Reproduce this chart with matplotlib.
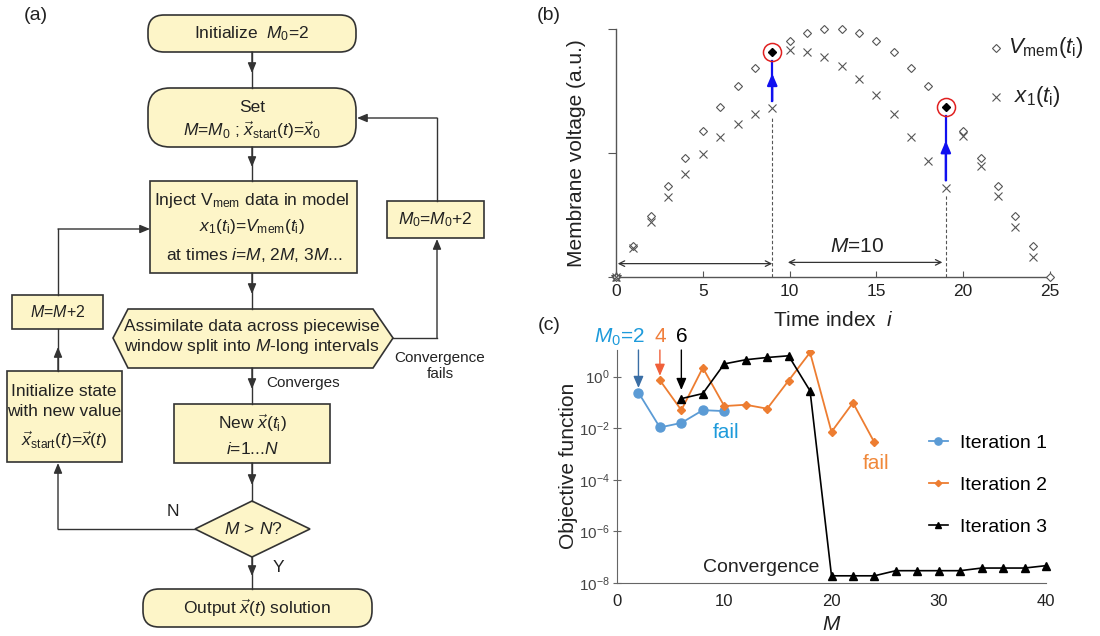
import matplotlib
matplotlib.use("Agg")
import matplotlib.pyplot as plt
import numpy as np
from matplotlib.patches import FancyBboxPatch, Rectangle, Polygon

plt.rcParams["font.family"] = ["Liberation Sans", "DejaVu Sans"]
plt.rcParams["mathtext.fontset"] = "custom"
plt.rcParams["mathtext.rm"] = "Liberation Sans"
plt.rcParams["mathtext.it"] = "Liberation Sans:italic"
plt.rcParams["mathtext.bf"] = "Liberation Sans:bold"

# ---- panel (b) data: membrane voltage vs time index ----
t_index = np.arange(26)
v_mem = [0.0, 0.124, 0.247, 0.368, 0.481, 0.589, 0.685, 0.772, 0.845, 0.907,
         0.953, 0.984, 1.0, 1.0, 0.984, 0.953, 0.907, 0.845, 0.772, 0.685,
         0.589, 0.481, 0.368, 0.247, 0.124, 0.0]
x1_index = np.arange(25)
x1_model = [0.0, 0.116, 0.223, 0.323, 0.417, 0.496, 0.565, 0.618, 0.659, 0.681,
            0.917, 0.909, 0.887, 0.852, 0.800, 0.735, 0.659, 0.567, 0.468, 0.360,
            0.570, 0.449, 0.325, 0.202, 0.079]
inject_times = [9, 19]

# ---- panel (c) data: objective function vs M ----
m_iter1 = [2, 4, 6, 8, 10]
obj_iter1 = [0.24, 0.0107, 0.016, 0.05, 0.046]
m_iter2 = [4, 6, 8, 10, 12, 14, 16, 18, 20, 22, 24]
obj_iter2 = [0.72, 0.05, 2.2, 0.072, 0.081, 0.057, 0.7, 8.6, 0.0072, 0.097, 0.0028]
m_iter3 = [6, 8, 10, 12, 14, 16, 18, 20, 22, 24, 26, 28, 30, 32, 34, 36, 38, 40]
obj_iter3 = [0.14, 0.22, 3.1, 4.5, 5.5, 6.4, 0.28, 1.9e-8, 1.9e-8, 1.9e-8,
             3.0e-8, 3.0e-8, 3.0e-8, 3.0e-8, 3.8e-8, 3.8e-8, 3.8e-8, 4.7e-8]

BOX_FILL = "#fdf5c8"
EDGE = "#333333"
TXT = "#222222"

fig = plt.figure(figsize=(11, 6.36), dpi=100)

# ---------------- panel (a): flowchart in pixel coordinates ----------------
fa = fig.add_axes([0, 0, 1, 1])
fa.set_xlim(0, 1100)
fa.set_ylim(636, 0)
fa.axis("off")


def rbox(x0, y0, x1, y1, r=16):
    fa.add_patch(FancyBboxPatch((x0, y0), x1 - x0, y1 - y0,
                                boxstyle=f"round,pad=0,rounding_size={r}",
                                fc=BOX_FILL, ec=EDGE, lw=1.2))


def box(x0, y0, x1, y1):
    fa.add_patch(Rectangle((x0, y0), x1 - x0, y1 - y0, fc=BOX_FILL, ec=EDGE, lw=1.2))


def poly(pts):
    fa.add_patch(Polygon(pts, closed=True, fc=BOX_FILL, ec=EDGE, lw=1.2))


def txt(x, y, s, size=12.5, **kw):
    fa.text(x, y, s, ha=kw.pop("ha", "center"), va="center", fontsize=size, color=TXT, **kw)


AP = dict(arrowstyle="-|>,head_length=0.6,head_width=0.25", color=EDGE, lw=1.0,
          shrinkA=0, shrinkB=0, mutation_scale=10)


def link_mid(p0, p1):
    fa.plot([p0[0], p1[0]], [p0[1], p1[1]], color=EDGE, lw=1.0)
    mid = ((p0[0] + p1[0]) / 2 + 0.0, (p0[1] + p1[1]) / 2 + (3 if p1[1] > p0[1] else -3))
    fa.annotate("", xy=mid, xytext=p0, arrowprops=AP)


def link_path(pts):
    xs = [p[0] for p in pts]
    ys = [p[1] for p in pts]
    fa.plot(xs[:-1], ys[:-1], color=EDGE, lw=1.0)
    fa.annotate("", xy=pts[-1], xytext=pts[-2], arrowprops=AP)


fa.text(36, 15, "(a)", fontsize=14, ha="center", va="center", color=TXT)
fa.text(549, 15, "(b)", fontsize=14, ha="center", va="center", color=TXT)
fa.text(549, 325, "(c)", fontsize=14, ha="center", va="center", color=TXT)

rbox(148, 15, 356, 52)
txt(252, 34, r"Initialize  $M_0$=2")
rbox(148, 88, 356, 147, r=22)
txt(252, 107, "Set")
txt(252, 130, r"$M$=$M_0$ ; $\vec{x}_{\mathrm{start}}(t)$=$\vec{x}_0$")
box(150, 181, 357, 273)
txt(252, 201, r"Inject V$_{\mathrm{mem}}$ data in model")
txt(252, 226, r"$x_1(t_{\mathrm{i}})$=$V_{\mathrm{mem}}(t_{\mathrm{i}})$")
txt(254, 255, r"at times $i$=$M$, 2$M$, 3$M$...")
poly([(113, 338), (128, 309), (373, 309), (393, 338), (373, 368), (128, 368)])
txt(252, 327, "Assimilate data across piecewise")
txt(252, 346, r"window split into $M$-long intervals")
box(387, 201, 484, 238)
txt(435, 220, r"$M_0$=$M_0$+2")
txt(440, 366, "Convergence\nfails", size=11, linespacing=1.1)
txt(266, 383, "Converges", size=11, ha="left")
box(174, 404, 330, 463)
txt(252, 423, r"New $\vec{x}(t_{\mathrm{i}})$")
txt(252, 449, r"$i$=1...$N$")
poly([(195, 529), (252, 501), (310, 529), (252, 557)])
txt(253, 529, r"$M\,>\,N?$")
txt(173, 512, "N")
txt(278, 567, "Y")
box(7, 371, 122, 462)
txt(64, 392, "Initialize state")
txt(64, 411, "with new value")
txt(64, 440, r"$\vec{x}_{\mathrm{start}}(t)$=$\vec{x}(t)$")
box(12, 295, 103, 329)
txt(58, 312, r"$M$=$M$+2", size=11.5)
rbox(143, 589, 372, 627)
txt(257, 608, r"Output $\vec{x}(t)$ solution")

for p0, p1 in [((252, 52), (252, 88)), ((252, 147), (252, 181)), ((252, 273), (252, 309)),
               ((252, 368), (252, 404)), ((252, 463), (252, 501)), ((252, 557), (252, 589)),
               ((58, 371), (58, 329))]:
    link_mid(p0, p1)
link_path([(195, 529), (58, 529), (58, 463)])
link_path([(58, 295), (58, 229), (150, 229)])
link_path([(393, 338), (437, 338), (437, 239)])
link_path([(437, 201), (437, 118), (357, 118)])

# ---------------- panel (b) ----------------
axb = fig.add_axes([616 / 1100, (636 - 277) / 636, 434 / 1100, 247.7 / 636])
axb.set_xlim(0, 25)
axb.set_ylim(0, 1)
for s in ["top", "right"]:
    axb.spines[s].set_visible(False)
for s in ["left", "bottom"]:
    axb.spines[s].set_color("#555555")
    axb.spines[s].set_linewidth(1.0)
axb.set_xticks([0, 5, 10, 15, 20, 25])
axb.set_yticks([0, 0.5, 1])
axb.set_yticklabels([])
axb.tick_params(axis="x", direction="in", length=4, color="#555555", labelsize=12.5,
                labelcolor=TXT, pad=5)
axb.tick_params(axis="y", direction="out", length=6, color="#555555")

vm_plot = [v for i, v in enumerate(v_mem) if i not in inject_times]
t_plot = [i for i in t_index if i not in inject_times]
axb.plot(t_plot, vm_plot, ls="none", marker="D", ms=4.2, mfc="white", mec="#555555",
         mew=0.8, clip_on=False, zorder=3)
axb.plot(x1_index, x1_model, ls="none", marker="x", ms=6, mec="#555555", mew=0.8,
         clip_on=False, zorder=3)
axb.plot([0], [0], ls="none", marker="*", ms=7, mfc="none", mec="#555555", mew=0.8,
         clip_on=False, zorder=4)
for ti in inject_times:
    vv = v_mem[ti]
    xx = x1_model[ti]
    axb.plot([ti], [vv], ls="none", marker="D", ms=4.5, mfc="black", mec="black", zorder=4)
    axb.plot([ti], [vv], ls="none", marker="o", ms=13, mfc="none", mec="#e02020",
             mew=1.1, zorder=4)
    y0 = xx + 0.03
    y1 = vv - 0.035
    axb.plot([ti, ti], [y0, y1], color="#1010f0", lw=1.6, zorder=3)
    axb.annotate("", xy=(ti, (y0 + y1) / 2 + 0.03), xytext=(ti, y0),
                 arrowprops=dict(arrowstyle="-|>,head_length=0.7,head_width=0.3",
                                 color="#1010f0", lw=1.6, shrinkA=0, shrinkB=0,
                                 mutation_scale=10))
    axb.plot([ti, ti], [0, xx - 0.03], color="#555555", lw=0.8, ls=(0, (3, 2)))

axb.annotate("", xy=(0.1, 0.054), xytext=(9.0, 0.054),
             arrowprops=dict(arrowstyle="<->", color="#333333", lw=0.9, shrinkA=0, shrinkB=0))
axb.annotate("", xy=(9.9, 0.059), xytext=(18.8, 0.059),
             arrowprops=dict(arrowstyle="<->", color="#333333", lw=0.9, shrinkA=0, shrinkB=0))
axb.text(13.9, 0.124, r"$M$=10", fontsize=15, ha="center", va="center", color=TXT)

axb.plot([21.9], [0.925], ls="none", marker="D", ms=4.2, mfc="white", mec="#555555",
         mew=0.8, clip_on=False)
axb.plot([21.9], [0.727], ls="none", marker="x", ms=6, mec="#555555", mew=0.8,
         clip_on=False)
axb.text(22.6, 0.925, r"$V_{\mathrm{mem}}(t_{\mathrm{i}})$", fontsize=16, va="center",
         ha="left", color=TXT)
axb.text(22.9, 0.727, r"$x_1(t_{\mathrm{i}})$", fontsize=16, va="center", ha="left",
         color=TXT)

axb.set_xlabel(r"Time index  $i$", fontsize=15, color=TXT, labelpad=9)
axb.set_ylabel("Membrane voltage (a.u.)", fontsize=15, color=TXT, labelpad=12)

# ---------------- panel (c) ----------------
axc = fig.add_axes([617 / 1100, (636 - 583) / 636, 429 / 1100, 233.5 / 636])
axc.set_yscale("log")
axc.set_xlim(0, 40)
axc.set_ylim(1e-8, 10 ** 1.05)
for s in ["top", "right"]:
    axc.spines[s].set_visible(False)
for s in ["left", "bottom"]:
    axc.spines[s].set_color("#666666")
axc.set_xticks([0, 10, 20, 30, 40])
axc.set_yticks([1e-8, 1e-6, 1e-4, 1e-2, 1])
axc.minorticks_off()
axc.yaxis.set_minor_locator(matplotlib.ticker.NullLocator())
axc.tick_params(axis="x", length=0, labelsize=12, labelcolor=TXT, pad=8)
axc.tick_params(axis="y", direction="inout", length=6, color="#666666", labelsize=11,
                labelcolor="#444444", pad=2)

c1 = "#5b9bd5"
c2 = "#ed7d31"
axc.plot(m_iter1, obj_iter1, color=c1, lw=1.3, marker="o", ms=6.5, label="Iteration 1")
axc.plot(m_iter2, obj_iter2, color=c2, lw=1.3, marker="D", ms=4, label="Iteration 2")
axc.plot(m_iter3, obj_iter3, color="black", lw=1.2, marker="^", ms=6, label="Iteration 3",
         clip_on=False)

y_text = 10 ** 1.54
y_top = 10 ** 1.03
axc.text(2.6, y_text, r"$M_0$=2", color="#1e9bdb", fontsize=15, ha="right", va="center")
axc.text(4.0, y_text, "4", color="#f07f3c", fontsize=15, ha="center", va="center")
axc.text(6.0, y_text, "6", color="black", fontsize=15, ha="center", va="center")
for xm, yb, col in [(2, 10 ** -0.44, "#3a6ea5"), (4, 10 ** 0.03, "#f0603a"),
                    (6, 10 ** -0.52, "black")]:
    axc.annotate("", xy=(xm, yb), xytext=(xm, y_top), annotation_clip=False,
                 arrowprops=dict(arrowstyle="-|>,head_length=0.7,head_width=0.3",
                                 color=col, lw=1.0, shrinkA=0, shrinkB=0,
                                 mutation_scale=10))

axc.text(10.2, 10 ** -2.18, "fail", color="#1e9bdb", fontsize=15, ha="center", va="center")
axc.text(24.2, 10 ** -3.37, "fail", color="#f0883a", fontsize=15, ha="center", va="center")
axc.text(13.4, 10 ** -7.39, "Convergence", color=TXT, fontsize=14, ha="center", va="center")

axc.legend(loc="upper left", bbox_to_anchor=(911 / 1100, (636 - 417) / 636),
           bbox_transform=fig.transFigure, frameon=False, fontsize=14,
           handlelength=1.0, handletextpad=0.6, labelspacing=1.25, markerscale=0.8)

axc.set_xlabel(r"$M$", fontsize=15, color=TXT, labelpad=4)
axc.set_ylabel("Objective function", fontsize=15, color=TXT, labelpad=1)

fig.savefig("out.png", dpi=100)
